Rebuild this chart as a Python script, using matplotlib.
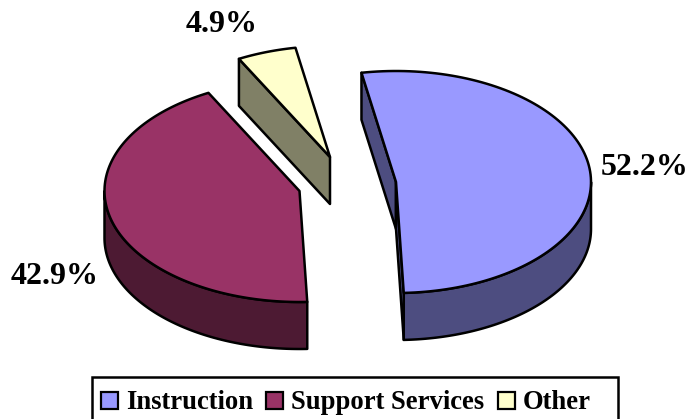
import numpy as np
import matplotlib
matplotlib.use("Agg")
import matplotlib.pyplot as plt
from matplotlib.patches import Polygon, Rectangle

categories = ["Instruction", "Support Services", "Other"]
shares = [52.2, 42.9, 4.9]
share_labels = ["52.2%", "42.9%", "4.9%"]
top_colors = ["#9999FF", "#993366", "#FFFFCC"]
side_colors = ["#4D4D80", "#4D1A33", "#808066"]

# where each slice apex ended up after being pulled out of the pie (pixels)
apex_x = [396, 299.5, 330]
apex_y = [182, 191, 157]
label_x = [645, 55, 222]
label_y = [167, 276, 25]
legend_swatch_x = [101, 266, 498]
legend_text_x = [126, 291, 523]

rx = 195
ry = 111
depth = 47
start = 100.2
font = ["Liberation Serif", "DejaVu Serif"]

fig = plt.figure(figsize=(6.88, 4.19), dpi=100)
ax = fig.add_axes([0, 0, 1, 1])
ax.set_xlim(0, 688)
ax.set_ylim(419, 0)
ax.axis("off")


def arc(cx, cy, t1, t2, dy=0):
    t = np.radians(np.linspace(t1, t2, 120))
    return np.column_stack([cx + rx * np.cos(t), cy - ry * np.sin(t) + dy])


def draw_slice(i, t1, t2):
    cx, cy = apex_x[i], apex_y[i]
    edge = dict(edgecolor="black", linewidth=1.8, joinstyle="round")
    apex = np.array([[cx, cy]])

    # rim, only the part facing the viewer (lower half of the ellipse)
    lo = max(t2, -180)
    hi = min(t1, 0)
    if hi > lo:
        a = arc(cx, cy, hi, lo)
        b = arc(cx, cy, lo, hi, depth)
        ax.add_patch(Polygon(np.vstack([a, b]), facecolor=side_colors[i], **edge))

    # cut faces, skip the ones turned away from the viewer
    for t, seen in ((t1, np.cos(np.radians(t1)) < 0), (t2, np.cos(np.radians(t2)) > 0)):
        if seen:
            p = arc(cx, cy, t, t)[0]
            wall = np.array([[cx, cy], p, p + [0, depth], [cx, cy + depth]])
            ax.add_patch(Polygon(wall, facecolor=side_colors[i], **edge))

    top = np.vstack([apex, arc(cx, cy, t1, t2)])
    ax.add_patch(Polygon(top, facecolor=top_colors[i], **edge))


order = [1, 2, 0]
bounds = start - np.concatenate([[0], np.cumsum(shares)]) * 3.6
for i in order:
    draw_slice(i, bounds[i], bounds[i + 1])

for i, lab in enumerate(share_labels):
    ax.text(label_x[i], label_y[i], lab, family=font, weight="bold", fontsize=23,
            ha="center", va="center", color="black")

# legend box runs off the bottom of the image
ax.add_patch(Rectangle((92, 377), 526, 50, facecolor="white", edgecolor="black",
                       linewidth=1.8, clip_on=True))
for i, name in enumerate(categories):
    ax.add_patch(Rectangle((legend_swatch_x[i], 392), 17, 17, facecolor=top_colors[i],
                           edgecolor="black", linewidth=1.6))
    ax.text(legend_text_x[i], 409, name, family=font, weight="bold", fontsize=19.2,
            ha="left", va="baseline", color="black")

fig.savefig("out.png", dpi=100)
